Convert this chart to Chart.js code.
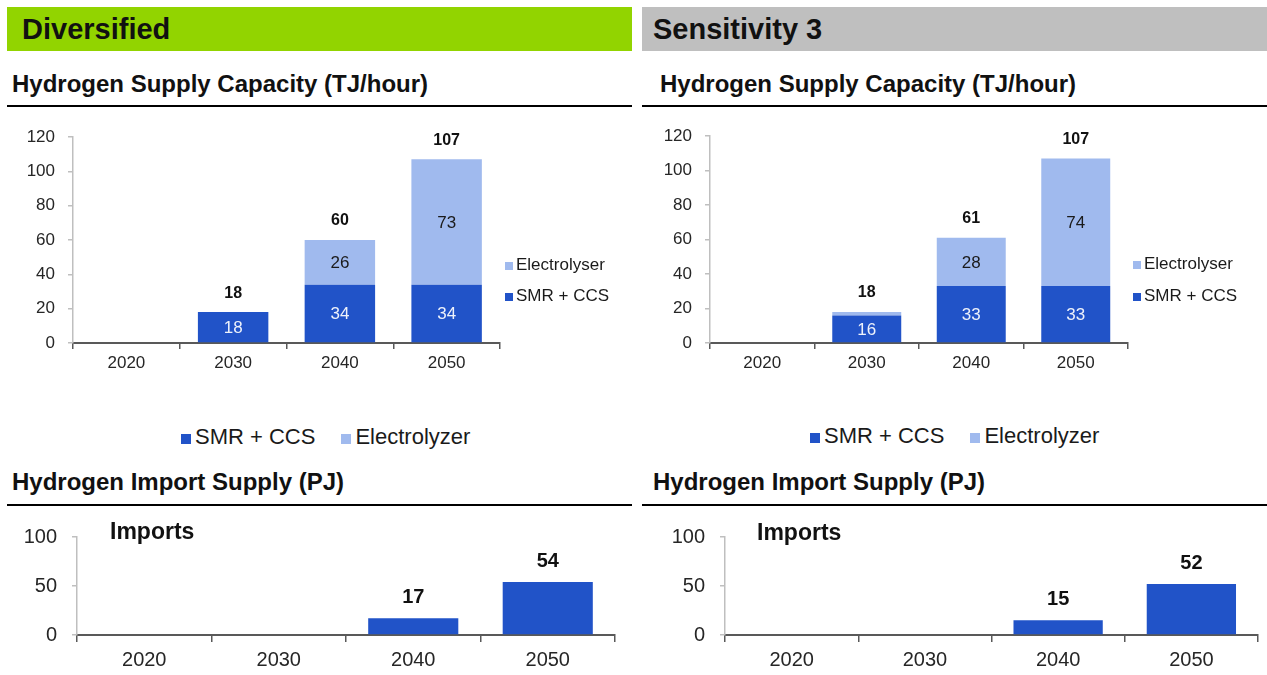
<!DOCTYPE html>
<html lang="en">
  <head>
    <meta charset="UTF-8" />
    <title>Hydrogen supply</title>
    <script src="https://cdn.jsdelivr.net/npm/chart.js"></script>
    <style>
      body {
        margin: 0;
        width: 1267px;
        height: 675px;
        background: #fff;
        font-family: "Liberation Sans", Arial, sans-serif;
        color: #111;
        position: relative;
        overflow: hidden;
      }
      .abs {
        position: absolute;
      }
      .head {
        top: 7px;
        width: 625px;
        height: 44px;
        line-height: 44px;
        font-weight: bold;
        font-size: 29px;
        box-sizing: border-box;
        padding-left: 15px;
      }
      .sub {
        font-weight: bold;
        font-size: 24px;
        line-height: 30px;
        white-space: nowrap;
      }
      .rule {
        height: 2px;
        background: #000;
        width: 625px;
      }
      .box {
        position: absolute;
      }
      .leg {
        font-size: 17px;
        line-height: 20px;
        color: #1a1a1a;
        white-space: nowrap;
      }
      .leg i,
      .legb i {
        display: inline-block;
        width: 8px;
        height: 8px;
        margin-right: 3px;
      }
      .legb {
        font-size: 22px;
        line-height: 26px;
        color: #1a1a1a;
        white-space: nowrap;
      }
      .legb i {
        width: 10px;
        height: 10px;
        margin-right: 4px;
      }
      .legb span + span {
        margin-left: 26px;
      }
      .imp {
        font-weight: bold;
        font-size: 23px;
        line-height: 28px;
      }
    </style>
  </head>
  <body>
    <div class="abs head" style="left: 7px; background: #92d400">Diversified</div>
    <div class="abs head" style="left: 642px; background: #bfbfbf; padding-left: 11px">Sensitivity 3</div>

    <div class="abs sub" style="left: 12px; top: 69px">Hydrogen Supply Capacity (TJ/hour)</div>
    <div class="abs sub" style="left: 660px; top: 69px">Hydrogen Supply Capacity (TJ/hour)</div>
    <div class="abs rule" style="left: 7px; top: 105px"></div>
    <div class="abs rule" style="left: 642px; top: 105px"></div>

    <div class="box" style="left: 0; top: 110px; width: 632px; height: 270px"><canvas id="capA"></canvas></div>
    <div class="box" style="left: 642px; top: 110px; width: 625px; height: 270px"><canvas id="capB"></canvas></div>

    <div class="abs leg" style="left: 505px; top: 255px"><i style="background: #a0baee"></i>Electrolyser</div>
    <div class="abs leg" style="left: 505px; top: 286px"><i style="background: #2153c8"></i>SMR + CCS</div>
    <div class="abs leg" style="left: 1133px; top: 254px"><i style="background: #a0baee"></i>Electrolyser</div>
    <div class="abs leg" style="left: 1133px; top: 286px"><i style="background: #2153c8"></i>SMR + CCS</div>

    <div class="abs legb" style="left: 181px; top: 424px">
      <span><i style="background: #2153c8"></i>SMR + CCS</span><span><i style="background: #a0baee"></i>Electrolyzer</span>
    </div>
    <div class="abs legb" style="left: 810px; top: 423px">
      <span><i style="background: #2153c8"></i>SMR + CCS</span><span><i style="background: #a0baee"></i>Electrolyzer</span>
    </div>

    <div class="abs sub" style="left: 12px; top: 467px">Hydrogen Import Supply (PJ)</div>
    <div class="abs sub" style="left: 653px; top: 467px">Hydrogen Import Supply (PJ)</div>
    <div class="abs rule" style="left: 7px; top: 504px"></div>
    <div class="abs rule" style="left: 642px; top: 504px"></div>

    <div class="box" style="left: 0; top: 510px; width: 632px; height: 165px"><canvas id="impA"></canvas></div>
    <div class="box" style="left: 642px; top: 510px; width: 625px; height: 165px"><canvas id="impB"></canvas></div>

    <div class="abs imp" style="left: 110px; top: 517px">Imports</div>
    <div class="abs imp" style="left: 757px; top: 518px">Imports</div>

    <script>
      const years = ["2020", "2030", "2040", "2050"];

      // capacity, TJ/hour
      const smrDiversified = [0, 18, 34, 34];
      const elecDiversified = [0, 0, 26, 73];
      const smrSens3 = [0, 16, 33, 33];
      const elecSens3 = [0, 2, 28, 74];

      // imports, PJ
      const importsDiversified = [0, 0, 17, 54];
      const importsSens3 = [0, 0, 15, 52];

      const capTicks = { min: 0, max: 120, step: 20 };
      const impTicks = { min: 0, max: 100, step: 50 };

      const DARK = "#2153c8";
      const LIGHT = "#a0baee";
      const FONT = "'Liberation Sans', Arial, sans-serif";

      // numbers inside the segments and the stack total above each bar
      const barLabels = {
        id: "barLabels",
        afterDatasetsDraw(chart, args, opts) {
          const ctx = chart.ctx;
          ctx.save();
          ctx.textAlign = "center";
          ctx.textBaseline = "middle";
          chart.data.labels.forEach((lab, i) => {
            let total = 0;
            let top = null;
            let x = 0;
            chart.data.datasets.forEach((ds, di) => {
              const bar = chart.getDatasetMeta(di).data[i];
              const v = ds.data[i];
              total += v;
              x = bar.x;
              if (v > 0) top = top === null ? bar.y : Math.min(top, bar.y);
              if (v >= opts.minInside) {
                ctx.font = opts.insideSize + "px " + FONT;
                ctx.fillStyle = ds.labelColor;
                ctx.fillText(v, bar.x, (bar.y + bar.base) / 2 + 1);
              }
            });
            if (total > 0) {
              ctx.font = "bold " + opts.totalSize + "px " + FONT;
              ctx.fillStyle = "#111";
              ctx.fillText(total, x, top - opts.totalGap);
            }
          });
          ctx.restore();
        },
      };

      function makeChart(id, datasets, t, box) {
        return new Chart(document.getElementById(id), {
          type: "bar",
          data: { labels: years, datasets: datasets },
          plugins: [barLabels],
          options: {
            responsive: true,
            maintainAspectRatio: false,
            animation: false,
            layout: { padding: { top: box.top, right: box.right, left: 0, bottom: 0 } },
            plugins: {
              legend: { display: false },
              tooltip: { enabled: false },
              barLabels: box.labels,
            },
            scales: {
              x: {
                stacked: true,
                border: { color: "#595959", width: 2 },
                grid: {
                  offset: true,
                  drawOnChartArea: false,
                  tickLength: box.xTick,
                  color: "#595959",
                  lineWidth: 1.5,
                },
                ticks: { color: "#262626", padding: box.xPad, font: { family: FONT, size: box.xFont } },
                afterFit: (s) => {
                  s.height = box.xHeight;
                },
              },
              y: {
                stacked: true,
                min: t.min,
                max: t.max,
                border: { color: "#bfbfbf", width: 1.5 },
                grid: { drawOnChartArea: false, tickLength: 5, color: "#bfbfbf", lineWidth: 1.5 },
                ticks: {
                  stepSize: t.step,
                  color: "#262626",
                  padding: box.yPad,
                  font: { family: FONT, size: box.yFont },
                },
                afterFit: (s) => {
                  s.width = box.yWidth;
                },
              },
            },
          },
        });
      }

      function capSets(smr, elec) {
        return [
          { label: "SMR + CCS", data: smr, backgroundColor: DARK, labelColor: "#eef2fb", barPercentage: 0.66, categoryPercentage: 1 },
          { label: "Electrolyser", data: elec, backgroundColor: LIGHT, labelColor: "#1a1a1a", barPercentage: 0.66, categoryPercentage: 1 },
        ];
      }

      function impSets(imp) {
        return [{ label: "Imports", data: imp, backgroundColor: DARK, labelColor: "#fff", barPercentage: 0.67, categoryPercentage: 1 }];
      }

      const capLabels = { minInside: 5, insideSize: 17, totalSize: 16, totalGap: 19 };
      const impLabels = { minInside: Infinity, insideSize: 18, totalSize: 20, totalGap: 21 };

      makeChart("capA", capSets(smrDiversified, elecDiversified), capTicks, {
        top: 27, right: 132, yWidth: 73, xHeight: 37, xTick: 6, xPad: 4, xFont: 17, yFont: 17, yPad: 13, labels: capLabels,
      });
      makeChart("capB", capSets(smrSens3, elecSens3), capTicks, {
        top: 26, right: 139, yWidth: 68, xHeight: 37, xTick: 6, xPad: 4, xFont: 17, yFont: 17, yPad: 13, labels: capLabels,
      });
      makeChart("impA", impSets(importsDiversified), impTicks, {
        top: 21, right: 17, yWidth: 77, xHeight: 40, xTick: 7, xPad: 6, xFont: 20, yFont: 20, yPad: 15, labels: impLabels,
      });
      makeChart("impB", impSets(importsSens3), impTicks, {
        top: 21, right: 9, yWidth: 83, xHeight: 40, xTick: 7, xPad: 6, xFont: 20, yFont: 20, yPad: 15, labels: impLabels,
      });
    </script>
  </body>
</html>
